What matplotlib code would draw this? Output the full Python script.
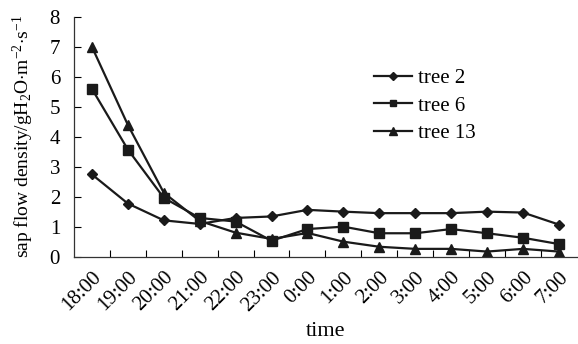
import matplotlib
matplotlib.use("Agg")
import matplotlib.pyplot as plt
import numpy as np

times = ["18:00", "19:00", "20:00", "21:00", "22:00", "23:00", "0:00",
         "1:00", "2:00", "3:00", "4:00", "5:00", "6:00", "7:00"]
tree2 = [2.75, 1.78, 1.22, 1.10, 1.30, 1.35, 1.57, 1.51, 1.46, 1.46, 1.46, 1.51, 1.48, 1.08]
tree6 = [5.60, 3.58, 1.97, 1.30, 1.18, 0.54, 0.93, 1.01, 0.79, 0.79, 0.93, 0.79, 0.64, 0.43]
tree13 = [7.00, 4.40, 2.14, 1.20, 0.81, 0.60, 0.80, 0.51, 0.34, 0.27, 0.27, 0.18, 0.27, 0.18]

plt.rcParams['font.family'] = ['Liberation Serif', 'DejaVu Serif']
plt.rcParams['mathtext.fontset'] = 'custom'
plt.rcParams['mathtext.rm'] = 'Liberation Serif'
plt.rcParams['mathtext.it'] = 'Liberation Serif:italic'

fig = plt.figure(figsize=(5.78, 3.44), dpi=100)
ax = fig.add_axes([0.128, 0.253, 0.870, 0.698])

x = np.arange(len(times))
col = '#1a1a1a'
ax.plot(x, tree2, color=col, lw=1.6, marker='D', ms=5.5, label='tree 2')
ax.plot(x, tree6, color=col, lw=1.6, marker='s', ms=6.5, label='tree 6')
ax.plot(x, tree13, color=col, lw=1.6, marker='^', ms=7.5, label='tree 13')

ax.set_xlim(-0.5, len(times) - 0.5)
ax.set_ylim(0, 8)
ax.set_yticks(range(0, 9))
ax.set_xticks(x)
ax.set_xticklabels(times, rotation=45, ha='right', rotation_mode='anchor')
ax.set_xticks(np.arange(0.5, len(times) - 0.5, 1), minor=True)
ax.tick_params(axis='x', which='major', length=0, labelsize=15, pad=8)
ax.tick_params(axis='x', which='minor', direction='in', length=5, width=0.8)
ax.tick_params(axis='y', direction='in', length=5, width=0.8, labelsize=15, pad=10)

for s in ['top', 'right']:
    ax.spines[s].set_visible(False)
for s in ['left', 'bottom']:
    ax.spines[s].set_linewidth(0.9)
    ax.spines[s].set_color('#333333')

ax.set_xlabel('time', fontsize=16, labelpad=5)
ax.set_ylabel(r'sap flow density/gH$_2$O$\cdot$m$^{-2}$$\cdot$s$^{-1}$', fontsize=14)
ax.yaxis.set_label_coords(-0.076, 0.5)

ax.legend(loc='upper left', bbox_to_anchor=(0.597, 0.785), frameon=False, fontsize=15,
          borderpad=0, borderaxespad=0, markerscale=0.7,
          handlelength=1.8, handletextpad=0.3, labelspacing=0.38)

fig.savefig('out.png', dpi=100)
